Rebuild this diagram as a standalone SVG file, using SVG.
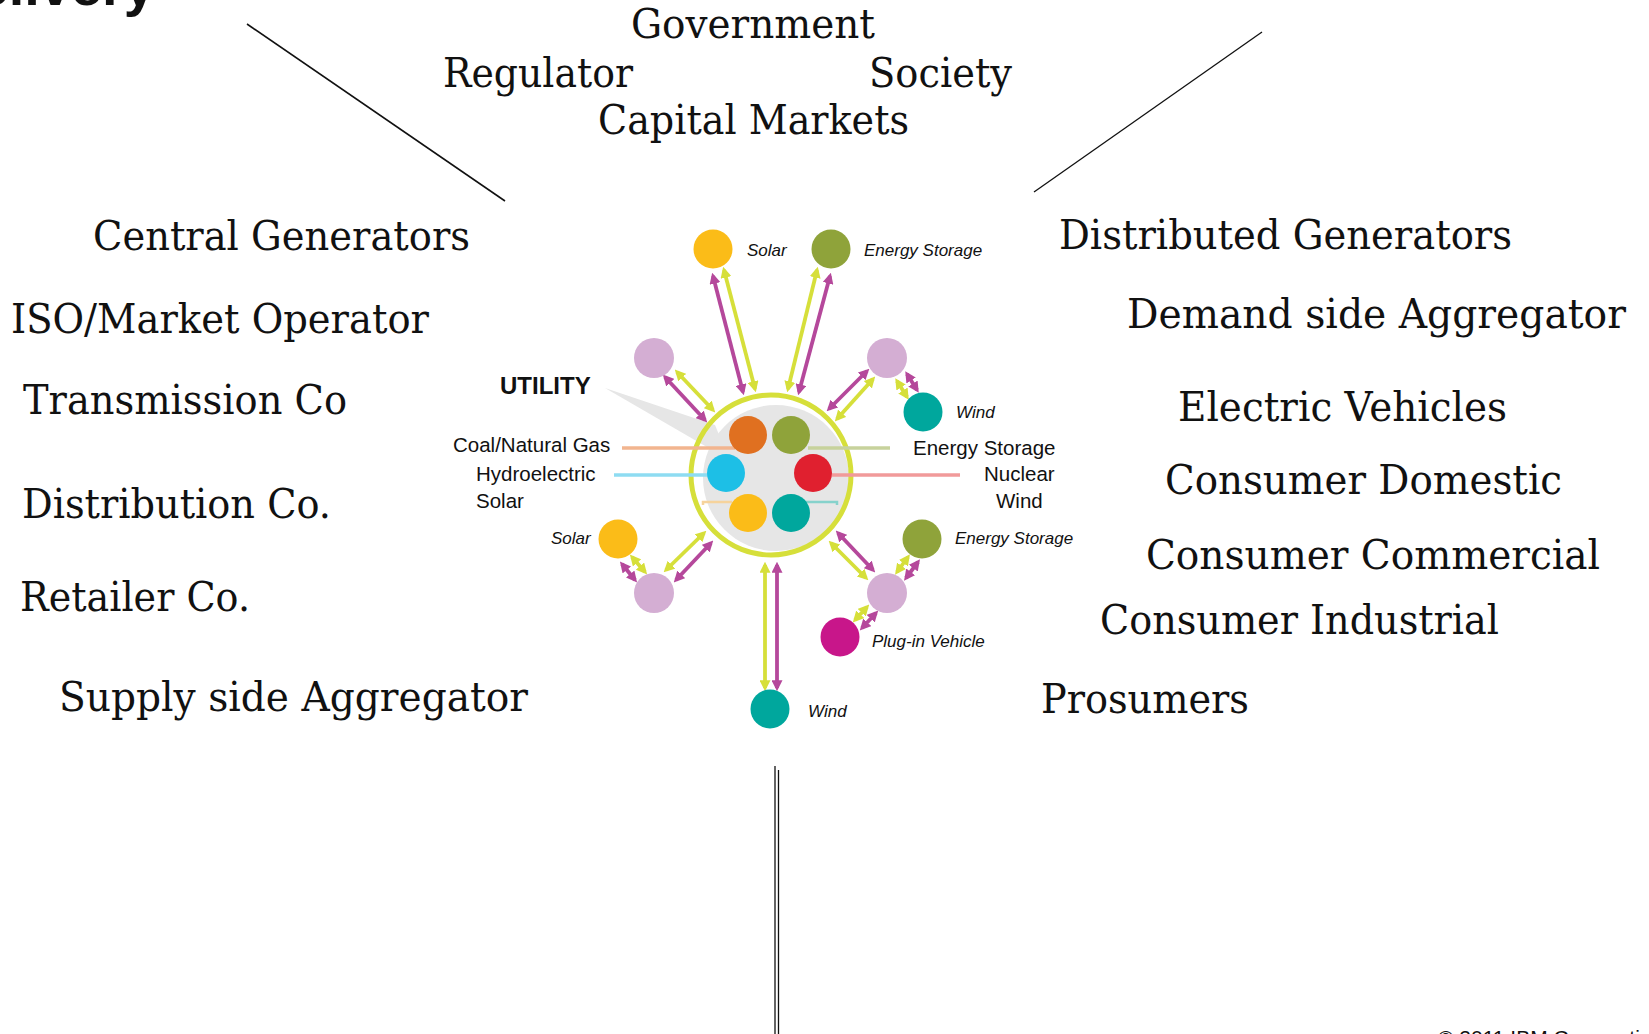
<svg xmlns="http://www.w3.org/2000/svg" width="1649" height="1034" viewBox="0 0 1649 1034">
<style>
.big{font-family:"DejaVu Serif","Liberation Serif",serif;font-size:41px;fill:#111}
.lab{font-family:"Liberation Sans",Arial,sans-serif;font-size:20.5px;fill:#111}
.it{font-family:"Liberation Sans",Arial,sans-serif;font-size:17px;font-style:italic;fill:#111}
.mg{stroke:#b5489b;stroke-width:3.8;fill:none;marker-start:url(#hm);marker-end:url(#hm)}
.yg{stroke:#d6df3a;stroke-width:3.8;fill:none;marker-start:url(#hy);marker-end:url(#hy)}
.blk{stroke:#111;stroke-width:1.6;fill:none}
</style>
<defs>
<marker id="hm" viewBox="0 0 10 10" refX="7" refY="5" markerWidth="11" markerHeight="11" markerUnits="userSpaceOnUse" orient="auto-start-reverse"><path d="M0,0 L10,5 L0,10 z" fill="#b5489b"/></marker>
<marker id="hy" viewBox="0 0 10 10" refX="7" refY="5" markerWidth="11" markerHeight="11" markerUnits="userSpaceOnUse" orient="auto-start-reverse"><path d="M0,0 L10,5 L0,10 z" fill="#d6df3a"/></marker>
</defs>
<rect width="1649" height="1034" fill="#fff"/>

<text x="155" y="5" text-anchor="end" style="font-family:'Liberation Sans',Arial,sans-serif;font-weight:bold;font-size:56px;fill:#111">Delivery</text>

<g id="stakeholders">
<text class="big" x="631" y="38" textLength="244" lengthAdjust="spacingAndGlyphs">Government</text>
<text class="big" x="443" y="87" textLength="190" lengthAdjust="spacingAndGlyphs">Regulator</text>
<text class="big" x="869" y="87" textLength="143" lengthAdjust="spacingAndGlyphs">Society</text>
<text class="big" x="598" y="134" textLength="311" lengthAdjust="spacingAndGlyphs">Capital Markets</text>
<text class="big" x="93" y="250" textLength="377" lengthAdjust="spacingAndGlyphs">Central Generators</text>
<text class="big" x="11" y="333" textLength="418" lengthAdjust="spacingAndGlyphs">ISO/Market Operator</text>
<text class="big" x="23" y="414" textLength="324" lengthAdjust="spacingAndGlyphs">Transmission Co</text>
<text class="big" x="22" y="518" textLength="309" lengthAdjust="spacingAndGlyphs">Distribution Co.</text>
<text class="big" x="20" y="611" textLength="230" lengthAdjust="spacingAndGlyphs">Retailer Co.</text>
<text class="big" x="59" y="711" textLength="469" lengthAdjust="spacingAndGlyphs">Supply side Aggregator</text>
<text class="big" x="1059" y="249" textLength="453" lengthAdjust="spacingAndGlyphs">Distributed Generators</text>
<text class="big" x="1127" y="328" textLength="499" lengthAdjust="spacingAndGlyphs">Demand side Aggregator</text>
<text class="big" x="1178" y="421" textLength="329" lengthAdjust="spacingAndGlyphs">Electric Vehicles</text>
<text class="big" x="1165" y="494" textLength="397" lengthAdjust="spacingAndGlyphs">Consumer Domestic</text>
<text class="big" x="1146" y="569" textLength="454" lengthAdjust="spacingAndGlyphs">Consumer Commercial</text>
<text class="big" x="1100" y="634" textLength="399" lengthAdjust="spacingAndGlyphs">Consumer Industrial</text>
<text class="big" x="1041" y="713" textLength="208" lengthAdjust="spacingAndGlyphs">Prosumers</text>
</g>

<g id="frame-lines">
<line class="blk" x1="247" y1="24" x2="505" y2="201"/>
<line class="blk" x1="1262" y1="32" x2="1034" y2="192" style="stroke-width:1.3"/>
<line class="blk" x1="775" y1="766" x2="775" y2="1034" style="stroke-width:1.3"/>
<line class="blk" x1="778.5" y1="770" x2="778.5" y2="1034" style="stroke-width:1.3"/>
</g>

<g id="utility">
<polygon points="605,388 715,425 724,447 712,450" fill="#e6e6e6"/>
<circle cx="776" cy="478" r="73" fill="#e6e6e6"/>
<circle cx="771" cy="475" r="80" fill="none" stroke="#d6df3a" stroke-width="5"/>
<g stroke-width="3.5" fill="none">
<line x1="622" y1="448" x2="735" y2="448" stroke="#f2b58f"/>
<line x1="614" y1="475" x2="708" y2="475" stroke="#8edcf2"/>
<path d="M703,505 V502 H732" stroke="#f6d39c" stroke-width="2.5"/>
<line x1="808" y1="448" x2="890" y2="448" stroke="#c7d29c"/>
<line x1="832" y1="475" x2="960" y2="475" stroke="#f19a9a"/>
<path d="M803,502 H837 V505" stroke="#86d2cc" stroke-width="2.5"/>
</g>
<circle cx="748" cy="435" r="19" fill="#e07020"/>
<circle cx="791" cy="435" r="19" fill="#8fa33a"/>
<circle cx="726" cy="473" r="19" fill="#1dbfe6"/>
<circle cx="813" cy="473" r="19" fill="#e0202f"/>
<circle cx="748" cy="513" r="19" fill="#fbbc18"/>
<circle cx="791" cy="513" r="19" fill="#00a79d"/>
<text x="500" y="394" style="font-family:'Liberation Sans',Arial,sans-serif;font-weight:bold;font-size:24px;fill:#111">UTILITY</text>
<text class="lab" x="453" y="452">Coal/Natural Gas</text>
<text class="lab" x="476" y="481">Hydroelectric</text>
<text class="lab" x="476" y="508">Solar</text>
<text class="lab" x="913" y="455">Energy Storage</text>
<text class="lab" x="984" y="481">Nuclear</text>
<text class="lab" x="996" y="508">Wind</text>
</g>

<g id="connectors">
<line class="mg" x1="713" y1="276" x2="743" y2="392"/>
<line class="yg" x1="724" y1="270" x2="755" y2="389"/>
<line class="yg" x1="817" y1="270" x2="788" y2="389"/>
<line class="mg" x1="830" y1="276" x2="799" y2="392"/>
<line class="mg" x1="665" y1="377" x2="705" y2="420"/>
<line class="yg" x1="677" y1="372" x2="713" y2="410"/>
<line class="mg" x1="829" y1="409" x2="867" y2="371"/>
<line class="yg" x1="873" y1="379" x2="837" y2="419"/>
<line class="yg" x1="897" y1="381" x2="907" y2="397"/>
<line class="mg" x1="907" y1="374" x2="917" y2="390"/>
<line class="yg" x1="666" y1="570" x2="704" y2="533"/>
<line class="mg" x1="676" y1="580" x2="711" y2="543"/>
<line class="yg" x1="632" y1="557" x2="645" y2="572"/>
<line class="mg" x1="622" y1="564" x2="635" y2="580"/>
<line class="mg" x1="838" y1="533" x2="873" y2="570"/>
<line class="yg" x1="831" y1="543" x2="866" y2="578"/>
<line class="yg" x1="897" y1="572" x2="908" y2="557"/>
<line class="mg" x1="906" y1="578" x2="918" y2="562"/>
<line class="yg" x1="855" y1="620" x2="867" y2="607"/>
<line class="mg" x1="862" y1="628" x2="876" y2="613"/>
<line class="yg" x1="765" y1="565" x2="765" y2="688"/>
<line class="mg" x1="777" y1="565" x2="777" y2="688"/>
</g>

<g id="node-solar-top"><circle cx="713" cy="249" r="19.5" fill="#fbbc18"/><text class="it" x="747" y="256">Solar</text></g>
<g id="node-storage-top"><circle cx="831" cy="249" r="19.5" fill="#8fa33a"/><text class="it" x="864" y="256">Energy Storage</text></g>
<g id="node-hub-ul"><circle cx="654" cy="358" r="20" fill="#d4aed3"/></g>
<g id="node-hub-ur"><circle cx="887" cy="358" r="20" fill="#d4aed3"/></g>
<g id="node-wind-ur"><circle cx="923" cy="412" r="19.5" fill="#00a79d"/><text class="it" x="956" y="418">Wind</text></g>
<g id="node-solar-ll"><circle cx="618" cy="539" r="19.5" fill="#fbbc18"/><text class="it" x="551" y="544">Solar</text></g>
<g id="node-hub-ll"><circle cx="654" cy="593" r="20" fill="#d4aed3"/></g>
<g id="node-storage-lr"><circle cx="922" cy="539" r="19.5" fill="#8fa33a"/><text class="it" x="955" y="544">Energy Storage</text></g>
<g id="node-hub-lr"><circle cx="887" cy="593" r="20" fill="#d4aed3"/></g>
<g id="node-plugin"><circle cx="840" cy="637" r="19.5" fill="#c8168a"/><text class="it" x="872" y="647">Plug-in Vehicle</text></g>
<g id="node-wind-bottom"><circle cx="770" cy="709" r="19.5" fill="#00a79d"/><text class="it" x="808" y="717">Wind</text></g>

<text x="1438" y="1045" style="font-family:'Liberation Sans',Arial,sans-serif;font-size:21px;fill:#111">© 2011 IBM Corporation</text>
</svg>
